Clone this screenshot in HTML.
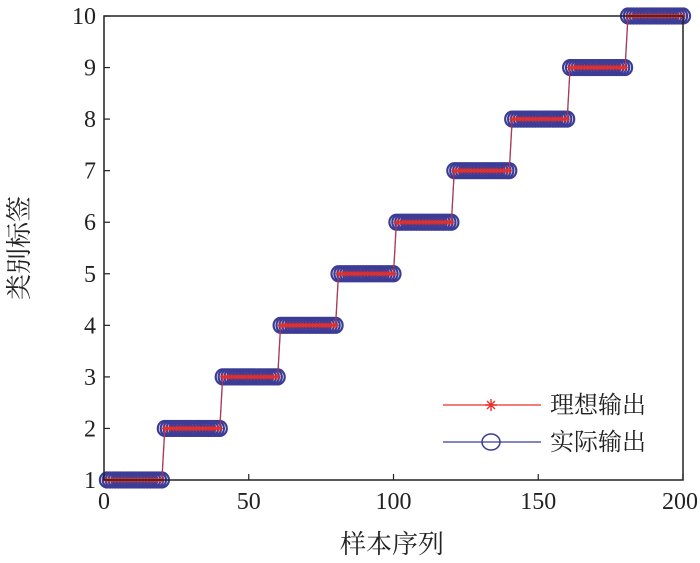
<!DOCTYPE html>
<html><head><meta charset="utf-8"><style>
body{margin:0;background:#fff}
svg text{font-family:"Liberation Serif","Noto Serif CJK SC",serif;fill:#222}
</style></head><body>
<svg width="700" height="558" viewBox="0 0 700 558">
<g id="plot"></g>
<rect x="104" y="16" width="579" height="464" fill="none" stroke="#222" stroke-width="1.5"/>
<g id="ticks"></g>
<text x="392" y="553" font-size="26" text-anchor="middle">样本序列</text>
<text transform="translate(28,248) rotate(-90)" font-size="26" text-anchor="middle">类别标签</text>
<g>
<g>
<line x1="443" y1="405" x2="541" y2="405" stroke="#e8302a" stroke-width="1.3"/>
<path d="M485 405h12M491 399v12M487 401l8 8M495 401l-8 8" stroke="#e8302a" stroke-width="1.4"/>
<text x="550" y="413" font-size="24">理想输出</text></g>
<g>
<line x1="443" y1="442" x2="541" y2="442" stroke="#3c3c96" stroke-width="1.3"/>
<ellipse cx="491" cy="442" rx="9" ry="8" fill="none" stroke="#3c3c96" stroke-width="1.5"/>
<text x="550" y="450" font-size="24">实际输出</text></g>
</g>
</svg>
<script>
const classLabels=[1,2,3,4,5,6,7,8,9,10];
const samplesPerClass=20;
const xTicks=[0,50,100,150,200];
const yTicks=[1,2,3,4,5,6,7,8,9,10];
const ns="http://www.w3.org/2000/svg";
const X=v=>104+v*2.895, Y=v=>480-(v-1)*(464/9);
const ideal=[],actual=[];
classLabels.forEach(c=>{for(let i=0;i<samplesPerClass;i++){ideal.push(c);actual.push(c);}});
const plot=document.getElementById('plot');
function mk(t,a){const e=document.createElementNS(ns,t);for(const k in a)e.setAttribute(k,a[k]);return e;}
let d='';actual.forEach((v,i)=>{d+=(i?'L':'M')+X(i+1)+' '+Y(v);});
const ln=mk('path',{d:d,fill:'none',stroke:'#3c3c96','stroke-width':1.3});


plot.appendChild(ln);
actual.forEach((v,i)=>{const c=mk('ellipse',{cx:X(i+1),cy:Y(v),rx:7,ry:7.5,fill:'none',stroke:'#3c3c96','stroke-width':2.2});


plot.appendChild(c);});
let di='';ideal.forEach((v,i)=>{di+=(i?'L':'M')+X(i+1)+' '+Y(v);});
const li=mk('path',{d:di,fill:'none',stroke:'#e8302a','stroke-width':0.8});


plot.appendChild(li);
ideal.forEach((v,i)=>{const x=X(i+1),y=Y(v);const s=mk('path',{d:`M${x-3} ${y}h6M${x} ${y-3}v6M${x-2} ${y-2}l4 4M${x+2} ${y-2}l-4 4`,stroke:'#e8302a','stroke-width':0.8});


plot.appendChild(s);});
const tk=document.getElementById('ticks');
xTicks.forEach(v=>{tk.appendChild(mk('line',{x1:X(v),x2:X(v),y1:480,y2:474,stroke:'#222','stroke-width':1.2}));
const t=mk('text',{x:Math.min(X(v),680),y:509,'font-size':24,'text-anchor':'middle'});t.textContent=v;


tk.appendChild(t);});
yTicks.forEach(v=>{tk.appendChild(mk('line',{x1:104,x2:110,y1:Y(v),y2:Y(v),stroke:'#222','stroke-width':1.2}));
const t=mk('text',{x:96,y:Y(v)+8,'font-size':24,'text-anchor':'end'});t.textContent=v;


tk.appendChild(t);});
</script>
</body></html>
